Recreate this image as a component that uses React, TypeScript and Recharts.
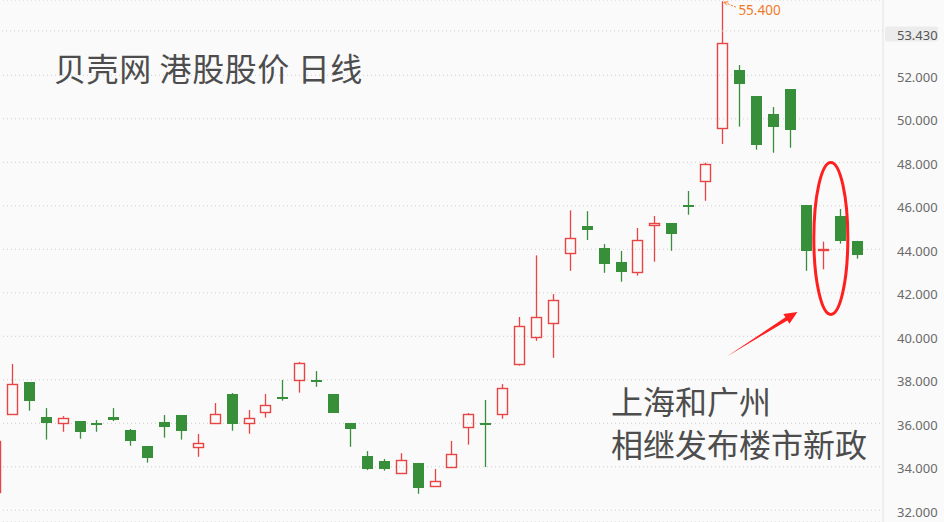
import React from 'react';
import { ComposedChart, Bar, XAxis, YAxis, CartesianGrid, ReferenceLine, ReferenceDot } from 'recharts';

// Daily OHLC (HKD), oldest first
const opens = [32.86, 36.41, 37.90, 36.29, 36.00, 36.10, 36.01, 36.29, 35.71, 34.96,
  36.06, 36.38, 34.90, 36.00, 37.35, 36.00, 36.51, 37.21, 37.98, 37.99,
  37.35, 36.01, 34.50, 34.27, 33.70, 34.18, 33.10, 33.98, 35.81, 36.01,
  36.41, 38.71, 39.99, 40.59, 43.81, 45.06, 44.06, 43.41, 42.94, 45.10,
  45.21, 46.04, 47.14, 49.56, 52.24, 51.05, 50.22, 51.37, 46.04, 43.98,
  45.53, 44.39];
const closes = [35.19, 37.79, 37.03, 36.01, 36.23, 35.61, 35.93, 36.15, 35.20, 34.42,
  35.84, 35.66, 35.08, 36.41, 35.98, 36.23, 36.83, 37.13, 38.76, 37.91,
  36.49, 35.75, 33.91, 33.91, 34.30, 33.04, 33.33, 34.57, 36.41, 35.93,
  37.64, 40.46, 40.87, 41.65, 44.50, 44.90, 43.34, 42.97, 44.43, 45.21,
  44.72, 45.96, 47.92, 53.47, 51.61, 48.81, 49.64, 49.50, 43.93, 44.02,
  44.39, 43.75];
const highs = [35.19, 38.73, 37.90, 36.70, 36.33, 36.10, 36.15, 36.70, 35.74, 34.96,
  36.38, 36.38, 35.51, 36.93, 37.39, 36.61, 37.35, 37.99, 38.82, 38.40,
  37.35, 36.01, 34.72, 34.36, 34.63, 34.18, 33.90, 35.19, 36.47, 37.07,
  37.80, 40.89, 43.72, 41.94, 45.79, 45.75, 44.24, 43.92, 44.98, 45.53,
  45.21, 46.68, 47.98, 55.40, 52.47, 51.05, 50.54, 51.37, 46.04, 44.35,
  45.85, 44.39];
const lows = [32.86, 36.41, 36.58, 35.25, 35.61, 35.29, 35.61, 36.10, 34.97, 34.19,
  35.34, 35.25, 34.46, 36.00, 35.66, 35.52, 36.26, 37.04, 37.41, 37.68,
  36.49, 34.92, 33.85, 33.82, 33.70, 32.76, 33.10, 33.98, 35.02, 33.99,
  36.21, 38.65, 39.79, 39.01, 43.01, 44.43, 42.92, 42.51, 42.79, 43.43,
  43.93, 45.59, 46.23, 48.84, 49.64, 48.58, 48.44, 48.67, 43.01, 43.08,
  44.26, 43.57];

const yTicks = [32, 34, 36, 38, 40, 42, 44, 46, 48, 50, 52];
const markedLevel = 54.04;
const markedLabel = '53.430';
const peakValue = 55.4;
const peakLabel = '55.400';
const peakIndex = 43;
const circledIndex = 49;
const circledCenter = 44.5;
const arrowIndex = 47;
const arrowTipValue = 41.12;

const title = '贝壳网 港股股价 日线';
const noteLines = ['上海和广州', '相继发布楼市新政'];

const RED = '#e84444';
const GREEN = '#388f3a';

const data: any[] = opens.map((o, i) => ({
  i,
  open: o,
  close: closes[i],
  high: highs[i],
  low: lows[i],
  range: [lows[i], highs[i]],
}));
data.push({ i: opens.length });

function CandleShape(props: any) {
  const { x, y, width, height, payload } = props;
  if (!payload || payload.open == null || x == null) return null;
  const { open, close, high, low } = payload;
  const top = Math.min(y, y + height);
  const h = Math.abs(height);
  const span = high - low;
  const k = span > 0 ? h / span : 0;
  const py = (v: number) => top + (high - v) * k;
  const cx = Math.floor(x + width / 2) + 0.5;
  const up = close >= open;
  const yHigh = py(high);
  const yLow = py(low);
  const bTop = py(Math.max(open, close));
  const bBot = py(Math.min(open, close));
  if (up) {
    const t = Math.round(bTop) + 0.5;
    const b = Math.round(bBot) + 0.5;
    if (b - t < 1) {
      // doji: cross
      return (
        <g>
          <line x1={cx} x2={cx} y1={yHigh} y2={yLow} stroke={RED} strokeWidth={1.3} />
          <line x1={cx - 5.5} x2={cx + 5.5} y1={t} y2={t} stroke={RED} strokeWidth={1.3} />
        </g>
      );
    }
    return (
      <g>
        {yHigh < t - 0.5 && <line x1={cx} x2={cx} y1={yHigh} y2={t} stroke={RED} strokeWidth={1.3} />}
        {yLow > b + 0.5 && <line x1={cx} x2={cx} y1={b} y2={yLow} stroke={RED} strokeWidth={1.3} />}
        <rect x={cx - 5} y={t} width={10} height={b - t} fill="none" stroke={RED} strokeWidth={1.4} />
      </g>
    );
  }
  const t = Math.round(bTop);
  const b = Math.max(Math.round(bBot), t + 2);
  return (
    <g>
      <line x1={cx} x2={cx} y1={yHigh} y2={yLow} stroke={GREEN} strokeWidth={1.3} />
      <rect x={cx - 5.5} y={t} width={11} height={b - t} fill={GREEN} />
    </g>
  );
}

const MarkedLabel = (p: any) => {
  const vb = p.viewBox || {};
  const x0 = (vb.x || 0) + (vb.width || 0);
  const y0 = vb.y || 0;
  return (
    <g>
      <rect x={x0 + 2} y={y0 - 4.5} width={53} height={15} rx={2} fill="#ececec" />
      <text x={x0 + 14} y={y0 + 9} fontSize={13} fontFamily="Noto Sans" fill="#555">{markedLabel}</text>
    </g>
  );
};

const PeakShape = (p: any) => {
  const { cx, cy } = p;
  return (
    <g>
      <line x1={cx + 2} y1={cy + 1} x2={cx + 14} y2={cy + 6} stroke="#f07a2a" strokeWidth={1} strokeDasharray="2 1.5" />
      <polyline points={`${cx + 6},${cy + 0.5} ${cx + 1.5},${cy + 0.8} ${cx + 4.5},${cy + 4}`} fill="none" stroke="#f07a2a" strokeWidth={1} />
      <text x={cx + 16} y={cy + 13.5} fontSize={13.5} fontFamily="Noto Sans" fill="#f07a2a">{peakLabel}</text>
    </g>
  );
};

const EllipseShape = (p: any) => {
  const { cx, cy } = p;
  return <ellipse cx={cx + 7} cy={cy} rx={17} ry={76} fill="none" stroke="#ff1f1f" strokeWidth={3} />;
};

const ArrowShape = (p: any) => {
  const { cx, cy } = p;
  const tx = cx + 7.4;
  const ty = cy;
  const pts = [
    [-71, 44.7],
    [-10.04, 8.45],
    [-7.94, 11.79],
    [0, 0],
    [-14.06, 2.07],
    [-11.96, 5.41],
  ].map(([dx, dy]) => `${tx + dx},${ty + dy}`).join(' ');
  return <polygon points={pts} fill="#ff1f1f" />;
};

export default function App() {
  return (
    <div style={{ position: 'absolute', left: 0, top: 0, width: 944, height: 522, background: '#fafafa', overflow: 'hidden' }}>
      <div style={{ position: 'absolute', left: -13, top: 0 }}>
        <ComposedChart width={957} height={522} data={data} margin={{ top: 0, right: 0, bottom: 0, left: 0 }}>
          <CartesianGrid vertical={false} stroke="#cdcdcd" strokeDasharray="1 3" />
          <XAxis dataKey="i" type="category" hide />
          <YAxis
            orientation="right"
            type="number"
            width={61}
            domain={[31.462, 55.462]}
            allowDataOverflow
            ticks={yTicks}
            tickFormatter={(v: number) => v.toFixed(3)}
            axisLine={{ stroke: '#e2e2e2' }}
            tickLine={false}
            tickMargin={8}
            tick={{ fill: '#6a6a6a', fontSize: 13, fontFamily: 'Noto Sans', dy: 2 }}
          />
          <ReferenceLine y={markedLevel} stroke="#cdcdcd" strokeDasharray="1 3" label={MarkedLabel} />
          <Bar dataKey="range" barSize={11} shape={CandleShape} isAnimationActive={false} />
          <ReferenceDot x={peakIndex} y={peakValue} shape={PeakShape} />
          <ReferenceDot x={circledIndex} y={circledCenter} shape={EllipseShape} />
          <ReferenceDot x={arrowIndex} y={arrowTipValue} shape={ArrowShape} />
        </ComposedChart>
      </div>
      <svg style={{ position: 'absolute', left: 0, top: 0 }} width={944} height={522}>
        <text x={54} y={81} fontSize={32} letterSpacing={0.6} fontFamily="'Noto Sans CJK SC'" fill="#4d4d4d">{title}</text>
        <text x={611} y={414} fontSize={32} fontFamily="'Noto Sans CJK SC'" fill="#4d4d4d">{noteLines[0]}</text>
        <text x={611} y={457} fontSize={32} fontFamily="'Noto Sans CJK SC'" fill="#4d4d4d">{noteLines[1]}</text>
      </svg>
    </div>
  );
}
